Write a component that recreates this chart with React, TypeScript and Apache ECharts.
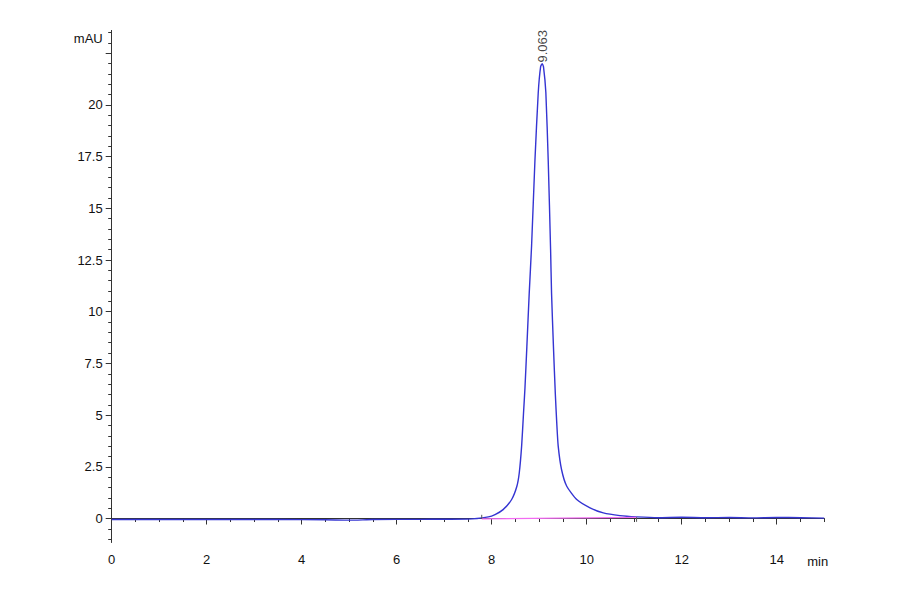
import { useEffect, useRef } from 'react'
import * as echarts from 'echarts'

// retention time (min) and absorbance (mAU)
const timeMin = [
  0, 0.5, 1.5, 2.5, 3.5, 4.5, 5, 5.5, 6.5, 7.5, 7.93, 8.07, 8.24, 8.42, 8.53, 8.58,
  8.63, 8.67, 8.7, 8.74, 8.79, 8.84, 8.91, 8.98, 9.03, 9.063, 9.09, 9.14, 9.19, 9.24,
  9.26, 9.3, 9.34, 9.37, 9.4, 9.47, 9.58, 9.79, 10.07, 10.35, 10.7, 11.05, 11.5, 12,
  12.5, 13, 13.5, 14, 14.5, 15,
]
const signalMau = [
  -0.05, -0.05, -0.05, -0.05, -0.05, -0.06, -0.08, -0.05, -0.04, -0.03, 0.08, 0.19, 0.43,
  0.92, 1.56, 2.2, 3.5, 5.1, 6.3, 8.3, 10.9, 13.2, 17.3, 20.6, 21.85, 22.0, 21.85, 20.6,
  17.3, 13.0, 10.9, 8.3, 6.0, 4.6, 3.5, 2.37, 1.56, 0.92, 0.52, 0.27, 0.14, 0.08, 0.04,
  0.06, 0.04, 0.05, 0.03, 0.05, 0.04, 0.02,
]

// integration baseline and its start / end marks
const baselineTime = [7.79, 11.05]
const baselineMau = [-0.02, 0.06]
const peakTime = 9.063
const peakHeight = 22.0
const peakLabel = '9.063'

// axis ticks
const xMajorTicks = [0, 2, 4, 6, 8, 10, 12, 14]
const yMajorTicks = [0, 2.5, 5, 7.5, 10, 12.5, 15, 17.5, 20, 22.5]
const yLabelTicks = [0, 2.5, 5, 7.5, 10, 12.5, 15, 17.5, 20]

const X_MIN = 0
const X_MAX = 15
const Y_MIN = -1.15
const Y_MAX = 23.6

const halfSteps = (from: number, to: number, skip: number) => {
  const out: number[] = []
  for (let v = from; v <= to + 1e-9; v += 0.5) {
    const r = Math.round(v * 2) / 2
    if (Math.abs(r / skip - Math.round(r / skip)) > 1e-6) out.push(r)
  }
  return out
}

const FONT = "'Liberation Sans Narrow', 'Arial Narrow', 'Liberation Sans', Arial, sans-serif"
const INK = '#111111'

export default function App() {
  const chartRef = useRef<HTMLDivElement | null>(null)

  useEffect(() => {
    document.body.style.margin = '0'
    if (!chartRef.current) return
    const chart = echarts.init(chartRef.current, undefined, { renderer: 'svg' })

    const xMinor = halfSteps(0.5, 15, 2)
    const yMinor = halfSteps(-1, 23.5, 2.5)

    const axisLine = { show: true, lineStyle: { color: '#333', width: 1 } }
    const label = { color: INK, fontSize: 13, fontFamily: FONT }

    chart.setOption({
      animation: false,
      backgroundColor: '#ffffff',
      grid: { left: 111.7, right: 75.8, top: 30.5, bottom: 51.7 },
      xAxis: [
        {
          type: 'value',
          min: X_MIN,
          max: X_MAX,
          axisLine,
          axisTick: { show: true, inside: false, length: 6, customValues: xMajorTicks, lineStyle: { color: '#333' } },
          axisLabel: { ...label, margin: 11, customValues: xMajorTicks },
          splitLine: { show: false },
        },
        {
          type: 'value',
          min: X_MIN,
          max: X_MAX,
          position: 'bottom',
          axisLine,
          axisTick: { show: true, length: 3.5, customValues: xMinor, lineStyle: { color: '#333' } },
          axisLabel: { show: false },
          splitLine: { show: false },
        },
        {
          // carries only the unit name, level with the tick labels
          type: 'value',
          min: X_MIN,
          max: X_MAX,
          position: 'bottom',
          offset: 26,
          axisLine: { show: false },
          axisTick: { show: false },
          axisLabel: { show: false },
          splitLine: { show: false },
          name: 'min',
          nameLocation: 'end',
          nameGap: -17,
          nameMoveOverlap: false,
          nameTextStyle: { ...label, align: 'left', verticalAlign: 'bottom' },
        },
      ],
      yAxis: [
        {
          type: 'value',
          min: Y_MIN,
          max: Y_MAX,
          axisLine,
          axisTick: { show: true, length: 6, customValues: yMajorTicks, lineStyle: { color: '#333' } },
          axisLabel: { ...label, margin: 9, customValues: yLabelTicks },
          splitLine: { show: false },
          name: 'mAU',
          nameLocation: 'end',
          nameGap: -1,
          nameMoveOverlap: false,
          nameTextStyle: { ...label, align: 'right', verticalAlign: 'top', padding: [0, 9, 0, 0] },
        },
        {
          type: 'value',
          min: Y_MIN,
          max: Y_MAX,
          position: 'left',
          axisLine,
          axisTick: { show: true, length: 3.5, customValues: yMinor, lineStyle: { color: '#333' } },
          axisLabel: { show: false },
          splitLine: { show: false },
        },
      ],
      series: [
        {
          type: 'line',
          data: timeMin.map((t, i) => [t, signalMau[i]]),
          showSymbol: false,
          smooth: 0.2,
          lineStyle: { color: '#3434d2', width: 1.4 },
          z: 3,
        },
        {
          type: 'line',
          data: baselineTime.map((t, i) => [t, baselineMau[i]]),
          showSymbol: false,
          lineStyle: { color: '#f26cf2', width: 1.3 },
          z: 4,
        },
        {
          type: 'line',
          data: [[baselineTime[0], baselineMau[0]], [baselineTime[0], baselineMau[0] + 0.2]],
          showSymbol: false,
          lineStyle: { color: '#555', width: 1 },
          z: 5,
        },
        {
          type: 'line',
          data: [[baselineTime[1], baselineMau[1]], [baselineTime[1], baselineMau[1] - 0.22]],
          showSymbol: false,
          lineStyle: { color: '#555', width: 1 },
          z: 5,
        },
        {
          type: 'scatter',
          data: [[peakTime, peakHeight]],
          symbolSize: 0,
          silent: true,
          label: {
            show: true,
            position: 'top',
            distance: 1,
            rotate: 90,
            align: 'left',
            verticalAlign: 'middle',
            formatter: peakLabel,
            color: INK,
            fontSize: 13,
            fontFamily: FONT,
          },
          z: 6,
        },
      ],
    })

    return () => chart.dispose()
  }, [])

  return <div ref={chartRef} style={{ width: 900, height: 594 }} />
}
